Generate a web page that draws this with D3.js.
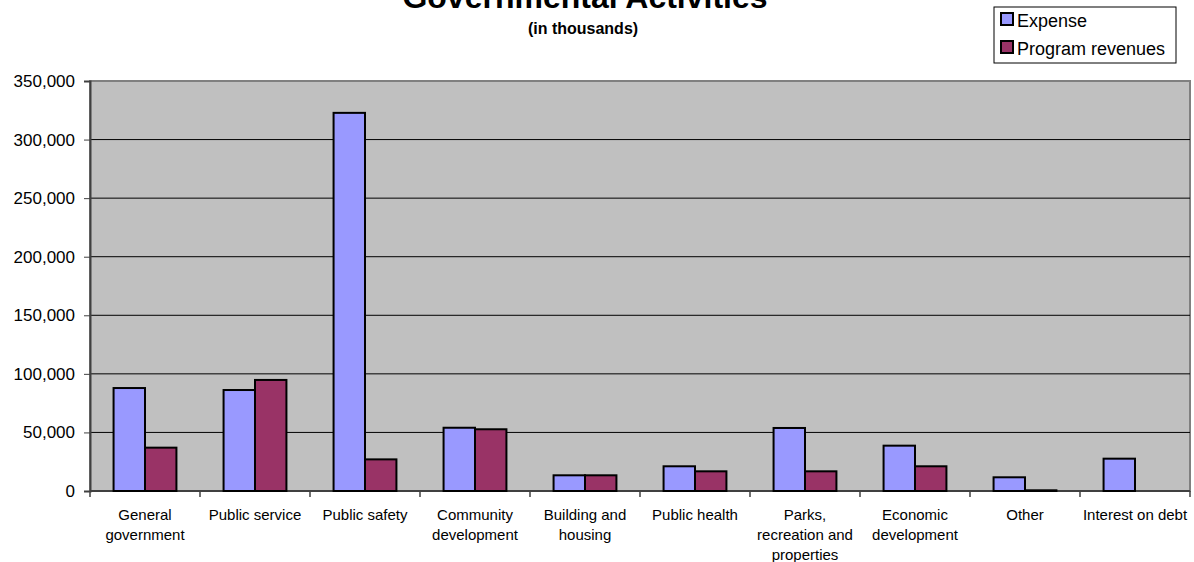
<!DOCTYPE html>
<html>
<head>
<meta charset="utf-8">
<script src="https://cdn.jsdelivr.net/npm/d3@7"></script>
<style>
  body { margin: 0; background: #fff; }
  svg { display: block; font-family: "Liberation Sans", Arial, sans-serif; }
</style>
</head>
<body>
<div id="chart"></div>
<script>
const W = 1194, H = 562;
const margin = { top: 81, right: 4, bottom: 71, left: 90 };

// data (in thousands)
const categories = [
  ["General", "government"],
  ["Public service"],
  ["Public safety"],
  ["Community", "development"],
  ["Building and", "housing"],
  ["Public health"],
  ["Parks,", "recreation and", "properties"],
  ["Economic", "development"],
  ["Other"],
  ["Interest on debt"]
];
const seriesNames = ["Expense", "Program revenues"];
const expense = [87900, 86200, 322800, 54000, 13400, 21100, 53800, 38700, 11700, 27600];
const revenues = [37000, 94800, 27000, 52700, 13400, 16800, 16800, 21100, 600, 0];
const yTicks = [0, 50000, 100000, 150000, 200000, 250000, 300000, 350000];
const colors = ["#9999FF", "#993366"];

const svg = d3.select("#chart").append("svg")
  .attr("width", W).attr("height", H);

const x0 = d3.scaleBand()
  .domain(d3.range(categories.length))
  .range([margin.left, W - margin.right]);

// Excel gap width 150%
const x1 = d3.scaleBand()
  .domain([0, 1])
  .range([0, x0.bandwidth()])
  .paddingOuter(0.75)
  .paddingInner(0);

const y = d3.scaleLinear()
  .domain([0, 350000])
  .range([H - margin.bottom, margin.top]);

// plot background
svg.append("rect")
  .attr("x", margin.left).attr("y", margin.top)
  .attr("width", W - margin.right - margin.left)
  .attr("height", H - margin.bottom - margin.top)
  .attr("fill", "#C0C0C0")
  .attr("stroke", "#808080").attr("stroke-width", 2);

// gridlines
svg.append("g")
  .selectAll("line")
  .data(yTicks.slice(1, -1))
  .join("line")
  .attr("x1", margin.left).attr("x2", W - margin.right)
  .attr("y1", d => y(d)).attr("y2", d => y(d))
  .attr("stroke", "#000").attr("stroke-width", 1);

// y axis
const yAxis = svg.append("g")
  .attr("transform", `translate(${margin.left},0)`)
  .call(d3.axisLeft(y).tickValues(yTicks).tickSize(6).tickPadding(9)
    .tickFormat(d3.format(",")));
yAxis.select(".domain").attr("stroke", "#404040").attr("stroke-width", 2);
yAxis.selectAll(".tick line").attr("stroke", "#404040");
yAxis.selectAll("text").attr("font-size", 17).attr("fill", "#000")
  .attr("font-family", "Liberation Sans, Arial, sans-serif");

// x axis
const xAxisG = svg.append("g")
  .attr("transform", `translate(0,${H - margin.bottom})`);
xAxisG.append("line")
  .attr("x1", margin.left).attr("x2", W - margin.right)
  .attr("stroke", "#404040").attr("stroke-width", 2);
xAxisG.selectAll(".tk")
  .data(d3.range(categories.length + 1))
  .join("line")
  .attr("class", "tk")
  .attr("x1", i => i < categories.length ? x0(i) : x0.range()[1])
  .attr("x2", i => i < categories.length ? x0(i) : x0.range()[1])
  .attr("y1", 0).attr("y2", 6)
  .attr("stroke", "#404040").attr("stroke-width", 1.5);

const labels = xAxisG.selectAll(".lbl")
  .data(categories)
  .join("text")
  .attr("class", "lbl")
  .attr("text-anchor", "middle")
  .attr("font-size", 15)
  .attr("fill", "#000");
labels.each(function(lines, i) {
  d3.select(this).selectAll("tspan")
    .data(lines)
    .join("tspan")
    .attr("x", x0(i) + x0.bandwidth() / 2)
    .attr("y", (d, j) => 29 + j * 20)
    .text(d => d);
});

// bars
const data = categories.map((c, i) => [expense[i], revenues[i]]);
const groups = svg.append("g")
  .selectAll("g")
  .data(data)
  .join("g")
  .attr("transform", (d, i) => `translate(${x0(i)},0)`);

groups.selectAll("rect")
  .data(d => d.map((v, k) => ({ v, k })))
  .join("rect")
  .filter(d => d.v > 0)
  .attr("x", d => x1(d.k))
  .attr("width", x1.bandwidth())
  .attr("y", d => y(d.v))
  .attr("height", d => y(0) - y(d.v))
  .attr("fill", d => colors[d.k])
  .attr("stroke", "#000").attr("stroke-width", 2);

// title (its top is cut off by the page edge, as in the source)
svg.append("text")
  .attr("x", 585).attr("y", 8)
  .attr("text-anchor", "middle")
  .attr("font-size", 32).attr("font-weight", "bold")
  .text("Governmental Activities");
svg.append("text")
  .attr("x", 583).attr("y", 34)
  .attr("text-anchor", "middle")
  .attr("font-size", 16).attr("font-weight", "bold")
  .text("(in thousands)");

// legend
const lg = svg.append("g").attr("transform", "translate(994,7)");
lg.append("rect")
  .attr("width", 182).attr("height", 56)
  .attr("fill", "#fff").attr("stroke", "#000").attr("stroke-width", 1);
const items = lg.selectAll(".item")
  .data(seriesNames)
  .join("g")
  .attr("class", "item")
  .attr("transform", (d, i) => `translate(7,${6 + i * 28})`);
items.append("rect")
  .attr("width", 12).attr("height", 12)
  .attr("fill", (d, i) => colors[i])
  .attr("stroke", "#000").attr("stroke-width", 2);
items.append("text")
  .attr("x", 16).attr("y", 14)
  .attr("font-size", 18)
  .text(d => d);
</script>
</body>
</html>
